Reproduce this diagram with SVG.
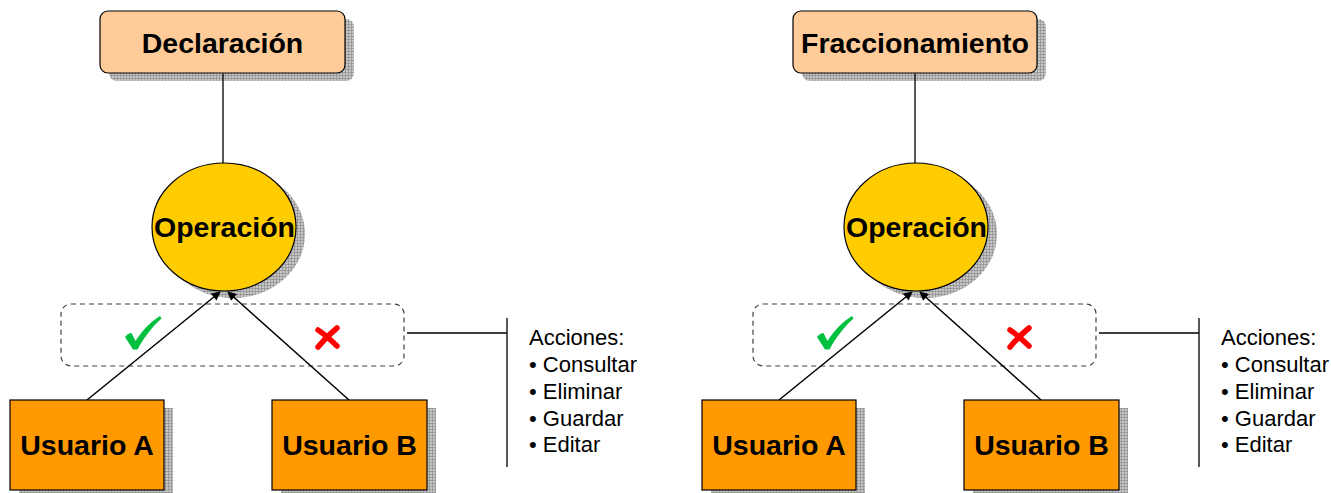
<svg xmlns="http://www.w3.org/2000/svg" width="1331" height="493" viewBox="0 0 1331 493">
<style>
.title{font-family:"Liberation Sans",Arial,sans-serif;font-weight:bold;font-size:28.5px;text-anchor:middle;fill:#000}
.list{font-family:"Liberation Sans",Arial,sans-serif;font-size:22px;fill:#000}
.shadow{fill:url(#grid)}
.box{stroke:#000;stroke-width:1.2}
.conn{stroke:#000;stroke-width:1.3;fill:none}
.arrow{stroke:#000;stroke-width:1.5;fill:none;marker-end:url(#ah)}
.dash{fill:none;stroke:#404040;stroke-width:1.2;stroke-dasharray:5 4}
</style>
<defs>
<pattern id="grid" width="3" height="3" patternUnits="userSpaceOnUse">
<rect width="3" height="3" fill="#c6c6c6"/>
<path d="M0,0.5H3M0.5,0V3" stroke="#8e8e8e" stroke-width="0.7"/>
</pattern>
<marker id="ah" viewBox="0 0 10 10" refX="9" refY="5" markerWidth="10" markerHeight="9" markerUnits="userSpaceOnUse" orient="auto">
<path d="M0,0L10,5L0,10Z" fill="#000"/>
</marker>
<g id="check">
<path d="M125,337 C127,334.5 129.5,333 131.5,333 L135.5,341 C142,331 150,322 160,316 L161.5,318.5 C152,327 143.5,338 137.5,349.5 L133,349.5 Z" fill="#00C040"/>
</g>
<g id="cross">
<path d="M318,330 Q327,336 337,346 M337,328 Q326,337 318,347" stroke="#FF0000" stroke-width="5.5" stroke-linecap="round" fill="none"/>
</g>
</defs>
<rect width="1331" height="493" fill="#fff"/>

<g id="left">
<g id="declaracion">
<rect class="shadow" x="109" y="19" width="245" height="62" rx="8"/>
<rect class="box" x="100" y="11" width="245" height="62" rx="8" fill="#FFCC99"/>
<text class="title" x="222.5" y="53">Declaración</text>
</g>
<g id="operacion-left">
<ellipse class="shadow" cx="233" cy="234" rx="72" ry="64"/>
<ellipse class="box" cx="224" cy="227" rx="72" ry="64" fill="#FFCC00"/>
<text class="title" x="224.5" y="237">Operación</text>
</g>
<g id="permisos-left">
<rect class="dash" x="61" y="304" width="343" height="62" rx="10"/>
<use href="#check"/>
<use href="#cross"/>
</g>
<g id="usuarioA-left">
<rect class="shadow" x="19" y="408" width="154" height="90"/>
<rect class="box" x="10" y="400" width="154" height="90" fill="#FF9900"/>
<text class="title" x="87" y="455">Usuario A</text>
</g>
<g id="usuarioB-left">
<rect class="shadow" x="281" y="408" width="155" height="90"/>
<rect class="box" x="272" y="400" width="155" height="90" fill="#FF9900"/>
<text class="title" x="349.5" y="455">Usuario B</text>
</g>
<g id="acciones-left">
<text class="list" x="529" y="345">Acciones:</text>
<text class="list" x="529" y="372">• Consultar</text>
<text class="list" x="529" y="399">• Eliminar</text>
<text class="list" x="529" y="426">• Guardar</text>
<text class="list" x="529" y="452">• Editar</text>
</g>
<g id="connectors-left">
<line class="conn" x1="223" y1="73.6" x2="223" y2="163"/>
<line class="arrow" x1="87" y1="400" x2="220" y2="292"/>
<line class="arrow" x1="349" y1="400" x2="228" y2="292"/>
<line class="conn" x1="407" y1="333" x2="507" y2="333"/>
<line class="conn" x1="507" y1="318" x2="507" y2="467"/>
</g>
</g>

<g id="right" transform="translate(692,0)">
<g id="fraccionamiento">
<rect class="shadow" x="110" y="19" width="244" height="62" rx="8"/>
<rect class="box" x="101" y="11" width="244" height="62" rx="8" fill="#FFCC99"/>
<text class="title" x="223" y="53">Fraccionamiento</text>
</g>
<g id="operacion-right">
<ellipse class="shadow" cx="233" cy="234" rx="72" ry="64"/>
<ellipse class="box" cx="224" cy="227" rx="72" ry="64" fill="#FFCC00"/>
<text class="title" x="224.5" y="237">Operación</text>
</g>
<g id="permisos-right">
<rect class="dash" x="61" y="304" width="343" height="62" rx="10"/>
<use href="#check"/>
<use href="#cross"/>
</g>
<g id="usuarioA-right">
<rect class="shadow" x="19" y="408" width="154" height="90"/>
<rect class="box" x="10" y="400" width="154" height="90" fill="#FF9900"/>
<text class="title" x="87" y="455">Usuario A</text>
</g>
<g id="usuarioB-right">
<rect class="shadow" x="281" y="408" width="155" height="90"/>
<rect class="box" x="272" y="400" width="155" height="90" fill="#FF9900"/>
<text class="title" x="349.5" y="455">Usuario B</text>
</g>
<g id="acciones-right">
<text class="list" x="529" y="345">Acciones:</text>
<text class="list" x="529" y="372">• Consultar</text>
<text class="list" x="529" y="399">• Eliminar</text>
<text class="list" x="529" y="426">• Guardar</text>
<text class="list" x="529" y="452">• Editar</text>
</g>
<g id="connectors-right">
<line class="conn" x1="223" y1="73.6" x2="223" y2="163"/>
<line class="arrow" x1="87" y1="400" x2="220" y2="292"/>
<line class="arrow" x1="349" y1="400" x2="228" y2="292"/>
<line class="conn" x1="407" y1="333" x2="507" y2="333"/>
<line class="conn" x1="507" y1="318" x2="507" y2="467"/>
</g>
</g>
</svg>
